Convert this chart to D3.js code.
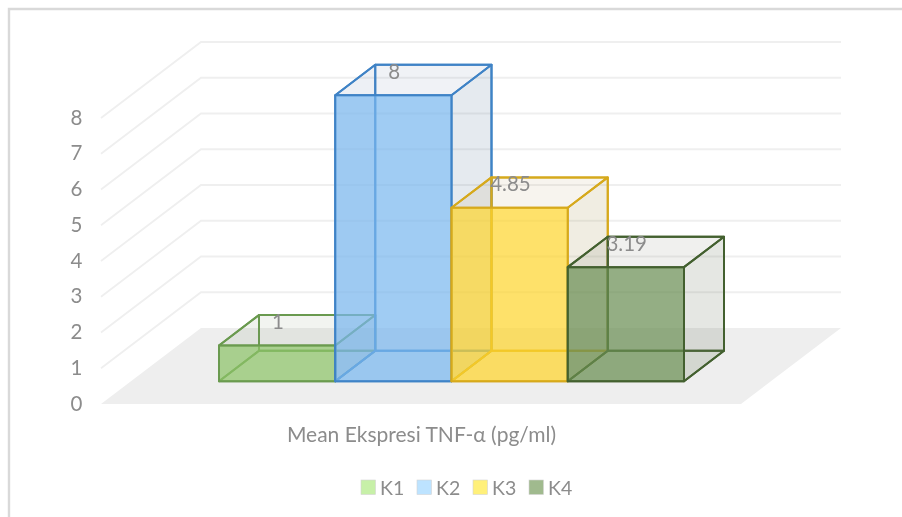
<!DOCTYPE html>
<html>
<head>
<meta charset="utf-8">
<script src="https://cdn.jsdelivr.net/npm/d3@7"></script>
<style>
html, body { margin: 0; padding: 0; background: #fff; }
svg { display: block; filter: blur(0.55px); }
text { font-family: Lato, "Open Sans", sans-serif; fill: #8c8c8c; }
</style>
</head>
<body>
<div id="vizContainer"></div>
<script>
// chart values
var categories = ['K1', 'K2', 'K3', 'K4'];
var values = [1, 8, 4.85, 3.19];
var valueLabels = ['1', '8', '4.85', '3.19'];
var yTicks = [0, 1, 2, 3, 4, 5, 6, 7, 8];
var axisTitle = 'Mean Ekspresi TNF-\u03b1 (pg/ml)';

// colours per bar
var strokeColors = ['#6a9a4f', '#3f83c6', '#d6a91c', '#43602f'];
var frontColors = ['#8fc46a', '#7ab8ef', '#ffd52e', '#6a8f52'];
var legendColors = ['#c7f0a8', '#bde3ff', '#fff07a', '#a0ba8e'];

var width = 902, height = 517;
var svg = d3.select('#vizContainer').append('svg')
    .attr('width', width)
    .attr('height', height)
    .attr('viewBox', '0 0 ' + width + ' ' + height);

// the picture frame, only top and left are visible
svg.append('path')
    .attr('d', d3.line()([[9, height], [9, 9], [width, 9]]))
    .attr('fill', 'none')
    .attr('stroke', '#d9d9d9')
    .attr('stroke-width', 2.4);

// front plane scales
var y = d3.scaleLinear().domain([0, 8]).range([404, 118]);
var x = d3.scaleBand().domain(categories).range([189, 654]);

// depth goes from 0 (front of floor) to 1 (back wall)
var depthX = 100, depthY = -76;
var barFront = 0.3, barBack = 0.7;
var floorLeft = 101, floorRight = 741;

function project(px, value, depth) {
    return [px + depthX * depth, y(value) + depthY * depth];
}

var line = d3.line();

// floor
svg.append('path')
    .attr('d', line([
        project(floorLeft, 0, 0), project(floorRight, 0, 0),
        project(floorRight, 0, 1), project(floorLeft, 0, 1)
    ]) + 'Z')
    .attr('fill', '#eeeeee');

// gridlines, side wall then back wall
svg.append('g').selectAll('path')
    .data(yTicks.slice(1))
    .join('path')
    .attr('d', function(d) {
        return line([project(floorLeft, d, 0), project(floorLeft, d, 1), project(floorRight, d, 1)]);
    })
    .attr('fill', 'none')
    .attr('stroke', '#efefef')
    .attr('stroke-width', 1.8);

// value axis
var axis = svg.append('g')
    .attr('transform', 'translate(82.5,-0.5)')
    .call(d3.axisLeft(y).tickValues(yTicks).tickSize(0).tickPadding(0).tickFormat(d3.format('d')));
axis.select('.domain').remove();
axis.selectAll('text').style('font-size', '20.5px').style('font-family', 'Lato');

// this draws one box, back faces first and front face last
function addBar(g, name, i) {
    var x0 = x(name), x1 = x0 + x.bandwidth(), v = values[i];
    var stroke = strokeColors[i];
    var shade = d3.interpolateRgb('#999999', stroke)(0.45);
    var faces = [
        { pts: [[x0, 0, barBack], [x1, 0, barBack], [x1, v, barBack], [x0, v, barBack]], fill: shade, op: 0.05 },
        { pts: [[x0, 0, barFront], [x0, 0, barBack], [x0, v, barBack], [x0, v, barFront]], fill: shade, op: 0.08 },
        { pts: [[x0, 0, barFront], [x1, 0, barFront], [x1, 0, barBack], [x0, 0, barBack]], fill: frontColors[i], op: 0.08 },
        { pts: [[x1, 0, barFront], [x1, 0, barBack], [x1, v, barBack], [x1, v, barFront]], fill: shade, op: 0.14 },
        { pts: [[x0, v, barFront], [x1, v, barFront], [x1, v, barBack], [x0, v, barBack]], fill: shade, op: 0.06 },
        { pts: [[x0, 0, barFront], [x1, 0, barFront], [x1, v, barFront], [x0, v, barFront]], fill: frontColors[i], op: 0.7 }
    ];
    g.selectAll('path')
        .data(faces)
        .join('path')
        .attr('d', function(f) {
            return line(f.pts.map(function(p) { return project(p[0], p[1], p[2]); })) + 'Z';
        })
        .attr('fill', function(f) { return f.fill; })
        .attr('fill-opacity', function(f) { return f.op; })
        .attr('stroke', stroke)
        .attr('stroke-width', 2)
        .attr('stroke-linejoin', 'round');
}

svg.append('g').selectAll('g')
    .data(categories)
    .join('g')
    .each(function(d, i) { addBar(d3.select(this), d, i); });

// data labels sit near the back top left corner of each box
svg.append('g').selectAll('text')
    .data(categories)
    .join('text')
    .attr('x', function(d, i) { return project(x(d), values[i], barBack)[0] + 19; })
    .attr('y', function(d, i) { return project(x(d), values[i], barBack)[1] + 6; })
    .attr('text-anchor', 'middle')
    .attr('dominant-baseline', 'central')
    .style('font-size', '20.5px')
    .text(function(d, i) { return valueLabels[i]; });

// category axis title
svg.append('text')
    .attr('x', 421.5)
    .attr('y', 433)
    .attr('text-anchor', 'middle')
    .attr('dominant-baseline', 'central')
    .style('font-size', '21px')
    .text(axisTitle);

// legend
var legendX = d3.scalePoint().domain(categories).range([361, 529]);
var legend = svg.append('g').selectAll('g')
    .data(categories)
    .join('g')
    .attr('transform', function(d) { return 'translate(' + legendX(d) + ',480)'; });
legend.append('rect')
    .attr('width', 14.5)
    .attr('height', 14.5)
    .attr('fill', function(d, i) { return legendColors[i]; })
    .attr('stroke', '#d4d4d4')
    .attr('stroke-width', 0.6);
legend.append('text')
    .attr('x', 19)
    .attr('y', 7)
    .attr('dominant-baseline', 'central')
    .style('font-size', '19.5px')
    .text(function(d) { return d; });
</script>
</body>
</html>
